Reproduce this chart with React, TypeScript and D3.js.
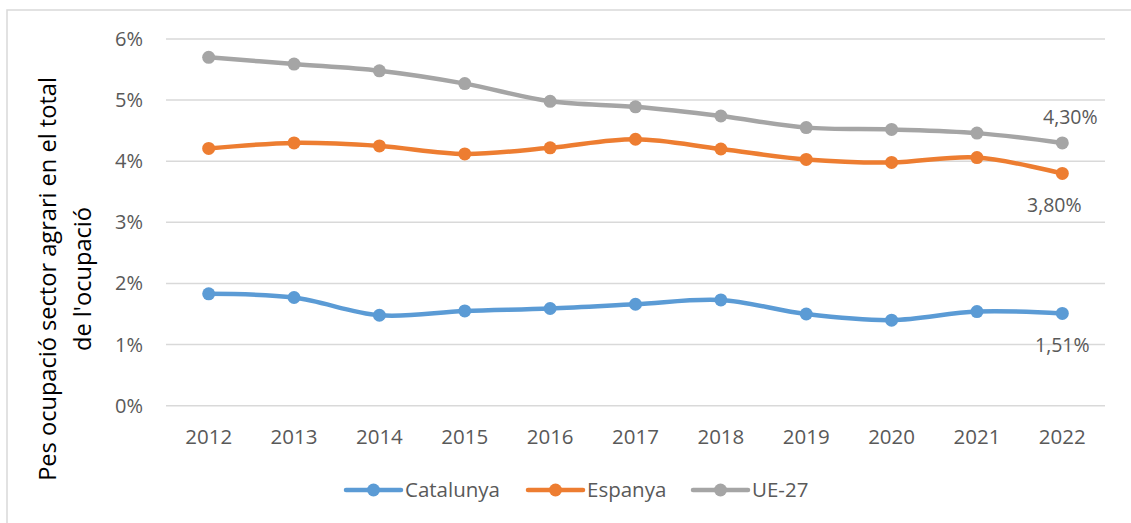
import React from "react";
import * as d3 from "d3";

const years = ["2012","2013","2014","2015","2016","2017","2018","2019","2020","2021","2022"];
const catalunya = [1.83,1.77,1.48,1.55,1.59,1.66,1.73,1.50,1.40,1.54,1.51];
const espanya = [4.21,4.30,4.25,4.12,4.22,4.36,4.20,4.03,3.98,4.06,3.80];
const ue27 = [5.70,5.59,5.48,5.27,4.98,4.89,4.74,4.55,4.52,4.46,4.30];
const yTicks = [0,1,2,3,4,5,6];
const seriesNames = ["Catalunya","Espanya","UE-27"];
const lastLabels = ["1,51%","3,80%","4,30%"];

const W = 1131, H = 523;
const FONT = "'Open Sans', sans-serif";
const TXT = "#595959";
const colors = ["#5B9BD5","#ED7D31","#A5A5A5"];

export default function App() {
  const x = d3.scaleBand().domain(years).range([166, 1105]);
  const y = d3.scaleLinear().domain([0, 6]).range([405.7, 39]);
  const cx = (yr: string) => (x(yr) as number) + x.bandwidth() / 2;
  const line = d3.line<number>()
    .x((_, i) => cx(years[i]))
    .y((v) => y(v))
    .curve(d3.curveCatmullRom.alpha(0));
  const data = [catalunya, espanya, ue27];
  const labelOffsets = [
    { dx: 0, dy: 32 },
    { dx: -8, dy: 32 },
    { dx: 8, dy: -26 },
  ];
  const legendX = [346, 528, 693];
  const legendY = 490;

  return (
    <svg width={W} height={H} style={{ position: "absolute", left: 0, top: 0, background: "#fff" }} fontFamily={FONT}>
      <rect x={0} y={0} width={W} height={H} fill="#fff" />
      <rect x={7} y={10} width={1300} height={700} fill="none" stroke="#D9D9D9" strokeWidth={1.5} />
      {yTicks.map((t) => (
        <g key={t}>
          <line x1={166} x2={1105} y1={y(t)} y2={y(t)} stroke="#D9D9D9" strokeWidth={1.5} />
          <text x={143} y={y(t)} dy="0.35em" textAnchor="end" fontSize={20} fill={TXT}>{`${t}%`}</text>
        </g>
      ))}
      {years.map((yr) => (
        <text key={yr} x={cx(yr)} y={437} dy="0.35em" textAnchor="middle" fontSize={20.5} fill={TXT}>{yr}</text>
      ))}
      <g transform="translate(48,279) rotate(-90)">
        <text x={0} y={0} dy="0.35em" textAnchor="middle" fontSize={23.6} fill="#000">Pes ocupació sector agrari en el total</text>
        <text x={0} y={35} dy="0.35em" textAnchor="middle" fontSize={23.6} fill="#000">de l'ocupació</text>
      </g>
      {data.map((s, k) => (
        <g key={k}>
          <path d={line(s) || ""} fill="none" stroke={colors[k]} strokeWidth={4.5} strokeLinejoin="round" strokeLinecap="round" />
          {s.map((v, i) => (
            <circle key={i} cx={cx(years[i])} cy={y(v)} r={6.5} fill={colors[k]} />
          ))}
          <text
            x={cx(years[years.length - 1]) + labelOffsets[k].dx}
            y={y(s[s.length - 1]) + labelOffsets[k].dy}
            dy="0.35em" textAnchor="middle" fontSize={19.5} fill={TXT}
          >{lastLabels[k]}</text>
        </g>
      ))}
      {seriesNames.map((n, k) => (
        <g key={n}>
          <line x1={legendX[k]} x2={legendX[k] + 55} y1={legendY} y2={legendY} stroke={colors[k]} strokeWidth={4.5} strokeLinecap="round" />
          <circle cx={legendX[k] + 27.5} cy={legendY} r={6.5} fill={colors[k]} />
          <text x={legendX[k] + 59} y={legendY} dy="0.35em" fontSize={20.5} fill={TXT}>{n}</text>
        </g>
      ))}
    </svg>
  );
}
